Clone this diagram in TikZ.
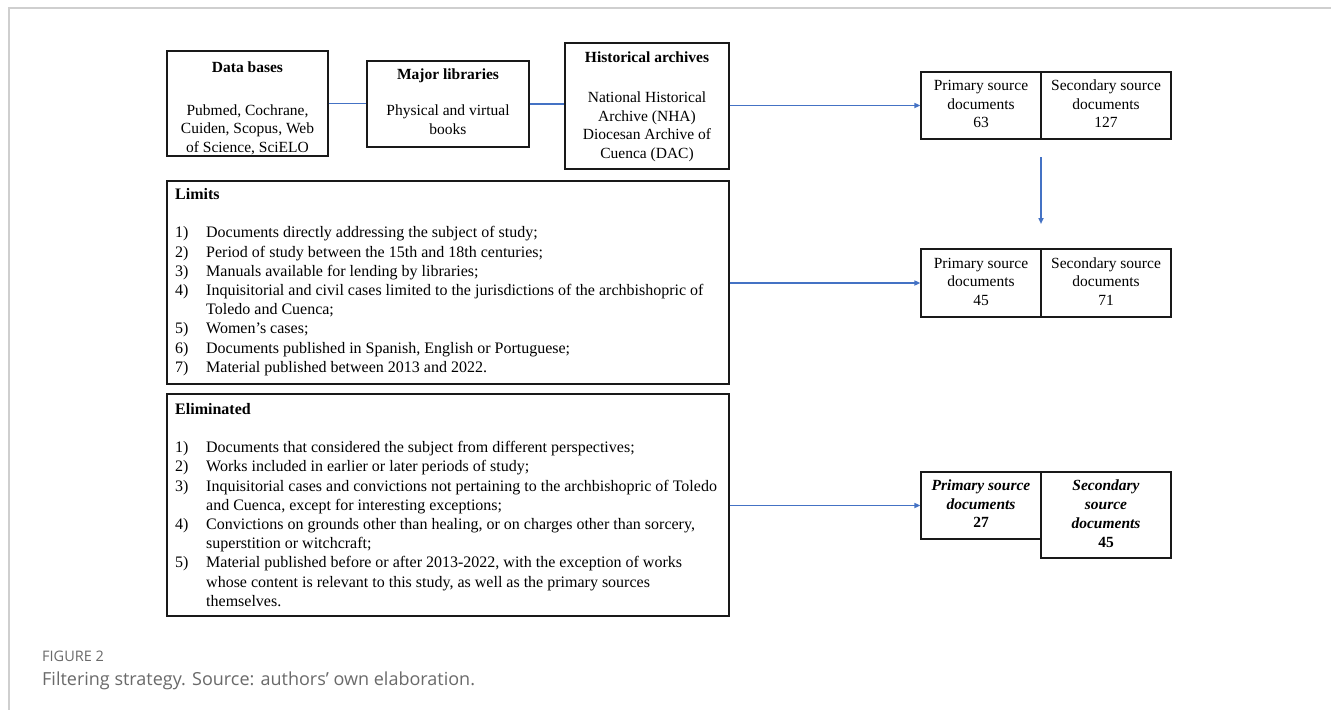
\documentclass[tikz,border=0pt]{standalone}
\usepackage{fontspec}
\setmainfont{Liberation Serif}
\newfontfamily\capfont{Open Sans}
\usetikzlibrary{arrows.meta}
\definecolor{conn}{HTML}{4472C4}
\definecolor{framegray}{HTML}{CFCFCF}
\definecolor{capgray}{HTML}{6A6A6A}
\newcommand{\itemnum}[1]{\strut\makebox[31pt][l]{#1}}
\newcommand{\itemcont}{\strut\hspace*{31pt}}
\begin{document}
\begin{tikzpicture}[x=1pt,y=-1pt,
  box/.style={draw=black!90, line width=1.2pt, rectangle, inner sep=0pt, align=center,
              font=\fontsize{15.5}{18.5}\selectfont},
  txt/.style={inner sep=0pt, align=center, font=\fontsize{15.5}{18.5}\selectfont},
  head/.style={inner sep=0pt, align=center, font=\fontsize{15.5}{18.5}\selectfont\bfseries},
  listtxt/.style={inner sep=0pt, align=left, anchor=west, font=\fontsize{16}{19.2}\selectfont},
  conline/.style={draw=conn, line width=1.5pt},
  conarrow/.style={conline, -{Triangle[length=6pt,width=5pt]}},
]
\useasboundingbox (0,0) rectangle (1331,710);
\fill[white] (0,0) rectangle (1331,710);
\draw[framegray, line width=2pt] (1331,7.5) -- (8.5,7.5) -- (8.5,710);

% top source boxes
\node[box, minimum width=161pt, minimum height=105pt] (db) at (247.5,103.5) {};
\node[head] (dbh) at (247.5,67) {Data bases};
\node[txt] (dbb) at (247.5,130) {\strut Pubmed, Cochrane,\\\strut Cuiden, Scopus, Web\\\strut of Science, SciELO};

\node[box, minimum width=162pt, minimum height=86pt] (ml) at (448,104) {};
\node[head] (mlh) at (448,76) {Major libraries};
\node[txt] (mlb) at (448,121.5) {\strut Physical and virtual\\\strut books};

\node[box, minimum width=164pt, minimum height=126pt] (ha) at (647,106) {};
\node[head] (hah) at (647,57.5) {Historical archives};
\node[txt] (hab) at (647,127) {\strut National Historical\\\strut Archive (NHA)\\\strut Diocesan Archive of\\\strut Cuenca (DAC)};

% limits box
\node[box, minimum width=562pt, minimum height=203pt] (lim) at (448,282.5) {};
\node[listtxt] (limt) at (175,282) {\strut\textbf{Limits}\\\strut\\
\itemnum{1)}Documents directly addressing the subject of study;\\
\itemnum{2)}Period of study between the 15th and 18th centuries;\\
\itemnum{3)}Manuals available for lending by libraries;\\
\itemnum{4)}Inquisitorial and civil cases limited to the jurisdictions of the archbishopric of\\
\itemcont Toledo and Cuenca;\\
\itemnum{5)}Women's cases;\\
\itemnum{6)}Documents published in Spanish, English or Portuguese;\\
\itemnum{7)}Material published between 2013 and 2022.};

% eliminated box
\node[box, minimum width=562pt, minimum height=222pt] (el) at (448,505) {};
\node[listtxt] (elt) at (175,506.5) {\strut\textbf{Eliminated}\\\strut\\
\itemnum{1)}Documents that considered the subject from different perspectives;\\
\itemnum{2)}Works included in earlier or later periods of study;\\
\itemnum{3)}Inquisitorial cases and convictions not pertaining to the archbishopric of Toledo\\
\itemcont and Cuenca, except for interesting exceptions;\\
\itemnum{4)}Convictions on grounds other than healing, or on charges other than sorcery,\\
\itemcont superstition or witchcraft;\\
\itemnum{5)}Material published before or after 2013-2022, with the exception of works\\
\itemcont whose content is relevant to this study, as well as the primary sources\\
\itemcont themselves.};

% result boxes
\node[box, minimum width=120pt, minimum height=67pt] (p1) at (981,105.5) {\strut Primary source\\\strut documents\\\strut 63};
\node[box, minimum width=130pt, minimum height=67pt] (s1) at (1106,105.5) {\strut Secondary source\\\strut documents\\\strut 127};

\node[box, minimum width=120pt, minimum height=68pt] (p2) at (981,283) {\strut Primary source\\\strut documents\\\strut 45};
\node[box, minimum width=130pt, minimum height=68pt] (s2) at (1106,283) {\strut Secondary source\\\strut documents\\\strut 71};

\node[box, minimum width=120pt, minimum height=67pt, font=\fontsize{15.5}{18.5}\selectfont\bfseries\itshape] (p3) at (981,505.5) {\strut Primary source\\\strut documents\\\strut\textup{27}};
\node[box, minimum width=130pt, minimum height=86pt, font=\fontsize{15.5}{19.2}\selectfont\bfseries\itshape] (s3) at (1106,515) {\strut Secondary\\\strut source\\\strut documents\\\strut\textup{45}};

% connectors
\draw[conline] (db.east) -- (db.east -| ml.west);
\draw[conline] (ml.east) -- (ml.east -| ha.west);
\draw[conarrow] (ha.east |- p1.west) -- (p1.west);
\coordinate (va) at (1041,157);
\coordinate (vb) at (1041,224);
\draw[conarrow] (va) -- (vb);
\draw[conarrow] (lim.east |- p2.west) -- (p2.west);
\draw[conarrow] (el.east |- p3.west) -- (p3.west);

% caption
\node[anchor=west, inner sep=0pt, font=\capfont\fontsize{14.5}{17}\selectfont, text=capgray] (fig) at (42,656) {FIGURE 2};
\node[anchor=west, inner sep=0pt, font=\capfont\fontsize{18}{21}\selectfont, text=capgray] (cap) at (42,681) {Filtering strategy. Source: authors’ own elaboration.};
\end{tikzpicture}
\end{document}
